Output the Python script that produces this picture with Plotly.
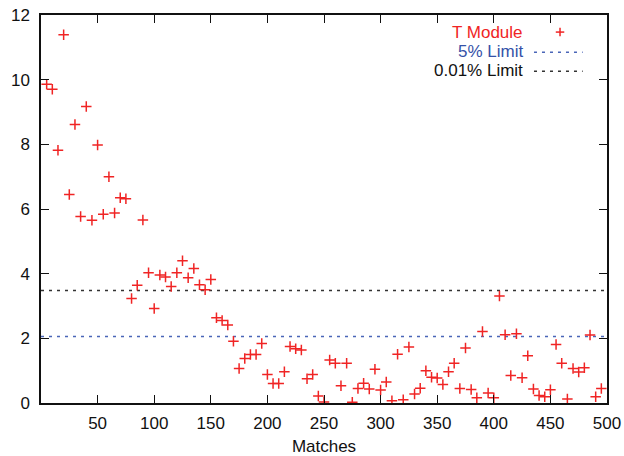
import plotly.graph_objects as go

# ---- data ----
matches = list(range(5, 500, 5))
t_module = [
    9.86, 9.70, 7.82, 11.39, 6.45, 8.61, 5.77, 9.17, 5.65, 7.98,
    5.84, 7.00, 5.88, 6.35, 6.32, 3.23, 3.64, 5.66, 4.03, 2.92,
    3.96, 3.90, 3.60, 4.03, 4.40, 3.87, 4.16, 3.66, 3.50, 3.82,
    2.64, 2.55, 2.41, 1.91, 1.07, 1.38, 1.50, 1.50, 1.84, 0.88,
    0.60, 0.60, 0.97, 1.75, 1.68, 1.64, 0.75, 0.88, 0.22, 0.03,
    1.33, 1.23, 0.53, 1.23, 0.02, 0.45, 0.61, 0.43, 1.04, 0.40,
    0.65, 0.07, 1.51, 0.10, 1.73, 0.28, 0.46, 1.00, 0.80, 0.77,
    0.57, 0.97, 1.23, 0.45, 1.70, 0.42, 0.16, 2.21, 0.31, 0.16,
    3.31, 2.11, 0.85, 2.14, 0.78, 1.46, 0.43, 0.23, 0.19, 0.41,
    1.81, 1.23, 0.12, 1.07, 0.96, 1.09, 2.10, 0.19, 0.45,
]
limit_names = ["5% Limit", "0.01% Limit"]
limit_values = [2.06, 3.48]
x_range = [0, 500]
x_ticks = list(range(50, 501, 50))
y_ticks = list(range(0, 13, 2))

RED = "#f02424"
BLUE = "#4a66b8"
BLUE_TXT = "#3552a8"
BLACK = "#333333"
FONT = "Liberation Sans, Arial, Helvetica, sans-serif"

fig = go.Figure()

limit_colors = [BLUE, BLACK]
for name, val, col in zip(limit_names, limit_values, limit_colors):
    fig.add_trace(go.Scatter(
        x=x_range, y=[val, val], mode="lines", name=name,
        line=dict(color=col, width=1.5, dash="3px,5px"),
        showlegend=False, hoverinfo="skip",
    ))

fig.add_trace(go.Scatter(
    x=matches, y=t_module, mode="markers", name="T Module",
    marker=dict(symbol="cross-thin", size=7.5, line=dict(color=RED, width=1.5), color=RED),
    showlegend=False,
))

axis_common = dict(
    showline=True, linecolor="#111", linewidth=1.5, mirror="allticks",
    ticks="inside", ticklen=8, tickwidth=1.2, tickcolor="#111",
    showgrid=False, zeroline=False, automargin=False, ticklabeloverflow="allow",
    tickfont=dict(family=FONT, size=17, color="#111"),
)

fig.update_xaxes(range=x_range, tickvals=x_ticks, ticklabelstandoff=4, **axis_common,
                 title=dict(text="Matches", font=dict(family=FONT, size=17, color="#111"), standoff=12))
fig.update_yaxes(range=[0, 12], tickvals=y_ticks, ticklabelstandoff=6, **axis_common)

# ---- gnuplot-style legend (text right-aligned, sample on right) ----
legend_items = [("T Module", RED, None), ("5% Limit", BLUE_TXT, BLUE), ("0.01% Limit", "#111", BLACK)]
legend_y = [0.956, 0.907, 0.858]
annotations = []
shapes = []
for (label, tcol, lcol), yy in zip(legend_items, legend_y):
    annotations.append(dict(
        x=0.855, y=yy, xref="paper", yref="paper", text=label, showarrow=False,
        xanchor="right", yanchor="middle", font=dict(family=FONT, size=17, color=tcol),
    ))
    if lcol is None:
        cx, cy = 0.917, yy
        shapes.append(dict(type="line", xref="paper", yref="paper",
                           x0=cx - 0.0075, x1=cx + 0.0075, y0=cy, y1=cy,
                           line=dict(color=RED, width=1.5)))
        shapes.append(dict(type="line", xref="paper", yref="paper",
                           x0=cx, x1=cx, y0=cy - 0.011, y1=cy + 0.011,
                           line=dict(color=RED, width=1.5)))
    else:
        shapes.append(dict(type="line", xref="paper", yref="paper",
                           x0=0.871, x1=0.957, y0=yy - 0.003, y1=yy - 0.003,
                           line=dict(color=lcol, width=1.5, dash="3px,5px")))

fig.update_layout(
    width=624, height=456,
    margin=dict(l=41.4, r=17, t=15, b=52.8),
    paper_bgcolor="white", plot_bgcolor="white",
    annotations=annotations, shapes=shapes,
    font=dict(family=FONT),
)

# remove the page's default body margin so the 624x456 figure fills the window exactly
fig.write_html("out.html", config={"displayModeBar": False},
               post_script="document.body.style.margin='0px';")
